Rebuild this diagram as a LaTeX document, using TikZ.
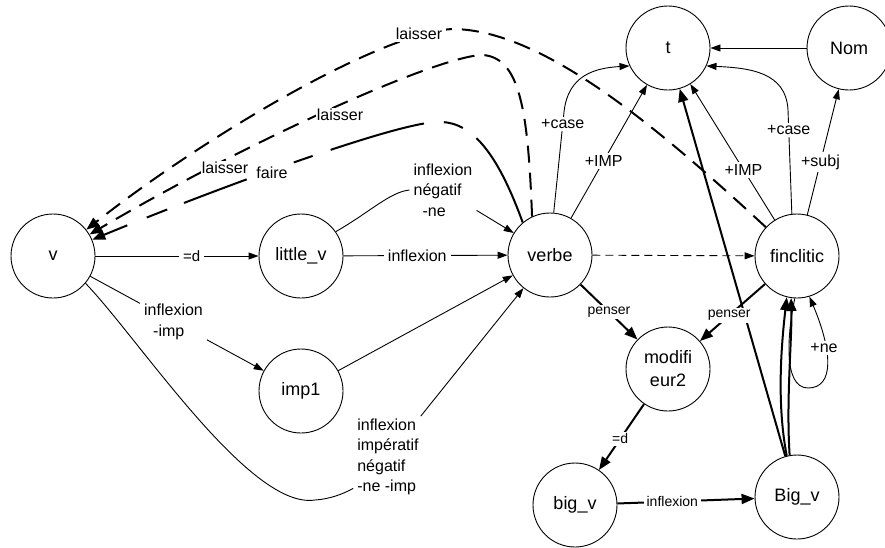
\documentclass[tikz,border=0pt]{standalone}
\usepackage{fontspec}
\setmainfont{Liberation Sans}
\usetikzlibrary{arrows.meta}
\begin{document}
\begin{tikzpicture}[x=1pt,y=-1pt,
  st/.style={circle, draw, line width=0.9pt, minimum size=84pt, inner sep=0pt,
    font=\fontsize{18}{23}\selectfont, align=center},
  tedge/.style={line width=0.9pt, -{Triangle[length=10pt,width=7pt]}},
  tline/.style={line width=0.9pt},
  bedge/.style={line width=2pt, -{Triangle[length=13pt,width=10pt]}},
  bdash/.style={line width=2pt, dash pattern=on 17pt off 10pt, -{Triangle[length=13pt,width=10pt]}},
  lab/.style={fill=white, inner xsep=4pt, inner ysep=2.5pt, font=\fontsize{16}{20.5}\selectfont, align=center},
  slab/.style={fill=white, inner xsep=3pt, inner ysep=2pt, font=\fontsize{14}{17}\selectfont}]
\useasboundingbox (0,0) rectangle (885,547);

% states
\node[st] (v) at (53,256) {v};
\node[st] (little_v) at (301,256) {little\_v};
\node[st] (verbe) at (550,255) {verbe};
\node[st] (finclitic) at (797,256) {finclitic};
\node[st] (t) at (668,48) {t};
\node[st] (Nom) at (849,48) {Nom};
\node[st] (imp1) at (301,391) {imp1};
\node[st] (modif) at (668,369) {modifi\\eur2};
\node[st] (big_v) at (575,505) {big\_v};
\node[st] (Big_v) at (797,497) {Big\_v};

% multi-line labels used as waypoints
\node[lab, align=left] (l3) at (443,190) {inflexion\\négatif\\\hspace{9pt}-ne};
\node[lab, align=left] (l5) at (388,457) {inflexion\\impératif\\négatif\\-ne -imp};

% thin edges
\draw[tedge] (v) -- node[lab,font=\fontsize{15}{18}\selectfont,pos=0.59]{=d} (little_v);
\draw[tedge] (little_v) -- node[lab,pos=0.45]{inflexion} (verbe);
\draw[tline] (little_v.35) .. controls (370,212) and (390,192) .. (l3.west);
\draw[tedge] (l3) -- (verbe);
\draw[tedge] (v) -- node[lab,pos=0.48,align=left]{inflexion\\\hspace{9pt}-imp} (imp1);
\draw[tline] (v.-40) .. controls (140,340) and (250,510) .. (315,500)
  .. controls (330,499) and (343,494) .. (l5.222);
\draw[tedge] (l5) -- (verbe);
\draw[tedge] (imp1) -- (verbe);
\draw[tedge, dash pattern=on 8pt off 5pt] (verbe) -- (finclitic);
\draw[tedge] (verbe.85) -- node[lab,pos=0.88]{+case} (564,112)
  .. controls (568,75) and (595,68) .. (t.205);
\draw[tedge] (verbe) -- node[lab,pos=0.43]{+IMP} (t);
\draw[tedge] (finclitic.97) -- node[lab,pos=0.81]{+case} (788,110)
  .. controls (786,72) and (750,68) .. (t.-25);
\draw[tedge] (finclitic) -- node[lab,pos=0.37]{+IMP} (t);
\draw[tedge] (finclitic) -- node[lab,pos=0.42]{+subj} (Nom);
\draw[tedge] (Nom) -- (t);
\draw[tedge] (finclitic.267) .. controls (788,330) and (782,388) .. (808,388)
  .. controls (835,388) and (832,350) .. (finclitic.287);
\node[lab] (lne) at (824,348) {+ne};

% bold edges
\draw[bedge] (Big_v) -- (t);
\draw[bedge] (verbe) -- node[slab,pos=0.5]{penser} (modif);
\draw[bedge] (finclitic) -- node[slab,pos=0.55]{penser} (modif);
\draw[bedge] (modif) -- node[slab,pos=0.53]{=d} (big_v);
\draw[bedge] (big_v) -- node[slab,pos=0.4]{inflexion} (Big_v);
\draw[bedge] (Big_v.104) .. controls (776,400) and (782,340) .. (finclitic.256);
\draw[bedge] (Big_v.100) .. controls (786,400) and (792,340) .. (finclitic.262);

% causative edges into v
\draw[bdash] (finclitic) .. controls (650,120) and (540,30) .. (453,29)
  .. controls (380,32) and (200,140) .. (v);
\draw[bdash] (verbe.115) .. controls (528,110) and (520,58) .. (483,55)
  .. controls (440,55) and (250,140) .. (v);
\draw[bedge, dash pattern=on 97pt off 17pt on 20pt off 20pt on 97pt off 19pt on 20pt off 50pt on 67pt off 18pt on 22pt off 21pt on 60pt]
  (verbe.130) .. controls (500,160) and (475,122) .. (440,122)
  .. controls (400,120) and (200,195) .. (v);
\node[lab] (la1) at (419,34) {laisser};
\node[lab, inner sep=1pt] (la2) at (340,115) {laisser};
\node[lab, inner sep=1pt] (la3) at (225,168) {laisser};
\node[lab, inner sep=1pt] (fa) at (272,173) {faire};
\end{tikzpicture}
\end{document}
